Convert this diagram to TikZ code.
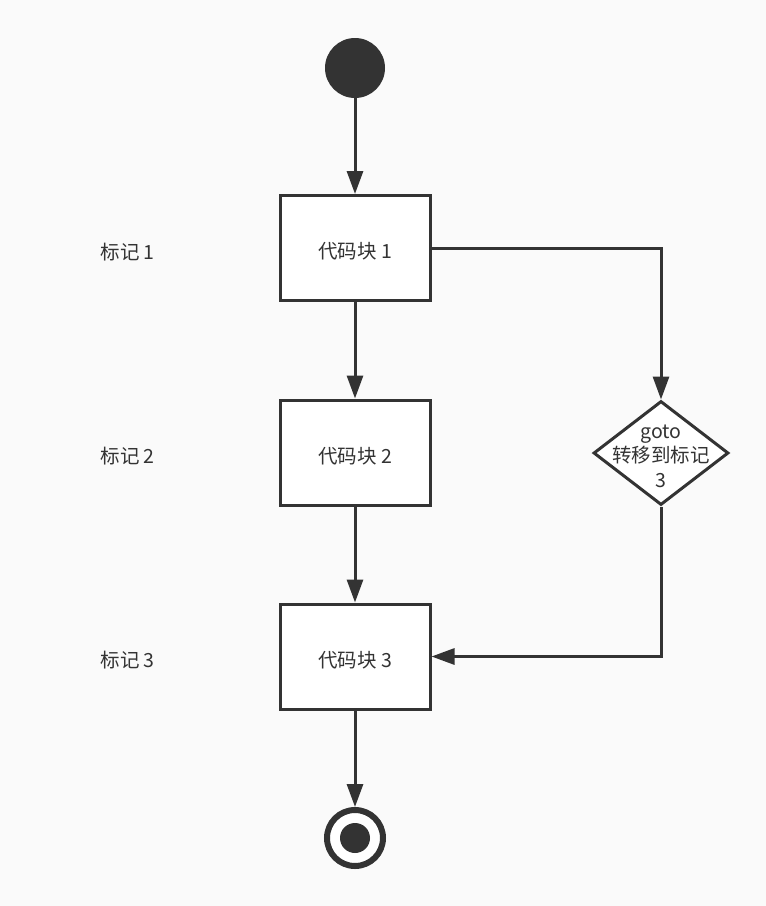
\documentclass[tikz,border=0pt]{standalone}
\usepackage{fontspec}
\setmainfont{Noto Sans CJK SC}
\usetikzlibrary{arrows.meta,shapes.geometric}
\definecolor{ink}{HTML}{333333}
\definecolor{paper}{HTML}{FAFAFA}
\newcommand{\lowered}[1]{\raisebox{-3.5pt}[\height][\depth]{#1}}
\begin{document}
\begin{tikzpicture}[x=1pt,y=-1pt,
  every node/.style={font=\fontsize{19.5}{24.5}\selectfont, text=ink},
  codebox/.style={draw=ink, line width=3pt, fill=white, minimum width=150pt, minimum height=105pt, inner sep=0pt},
  flow/.style={draw=ink, line width=3pt, -{Triangle[length=23pt,width=16pt]}},
  tag/.style={anchor=west}]
  % canvas
  \fill[paper] (0,0) rectangle (766,906);
  \useasboundingbox (0,0) rectangle (766,906);

  % start and end states
  \node[circle, fill=ink, minimum size=60pt, inner sep=0pt] (start) at (355,68) {};
  \node[circle, draw=ink, line width=6pt, fill=white, minimum size=56pt, inner sep=0pt] (stop) at (355,838) {};
  \fill[ink] (stop.center) circle (15pt);

  % code blocks
  \node[codebox] (b1) at (355,248) {\lowered{代码块 1}};
  \node[codebox] (b2) at (355,452.5) {\lowered{代码块 2}};
  \node[codebox] (b3) at (355,656.5) {\lowered{代码块 3}};

  % goto decision: fixed-size diamond, caption set on top of it
  \node[diamond, draw=ink, line width=3pt, fill=white, minimum width=135pt, minimum height=104pt, inner sep=0pt] (jump) at (661,453) {};
  \node[align=center] (jumptext) at (661,456) {goto\\转移到标记\\3};

  % labels
  \node[tag] (t1) at (97,252) {标记 1};
  \node[tag] (t2) at (97,456) {标记 2};
  \node[tag] (t3) at (97,660) {标记 3};

  % connectors
  \draw[flow] (start) -- (b1);
  \draw[flow] (b1) -- (b2);
  \draw[flow] (b2) -- (b3);
  \draw[flow] (b3) -- (stop);
  \draw[flow] (b1.east) -| (jump.north);
  \draw[flow] (jump.south) |- (b3.east);
\end{tikzpicture}
\end{document}
